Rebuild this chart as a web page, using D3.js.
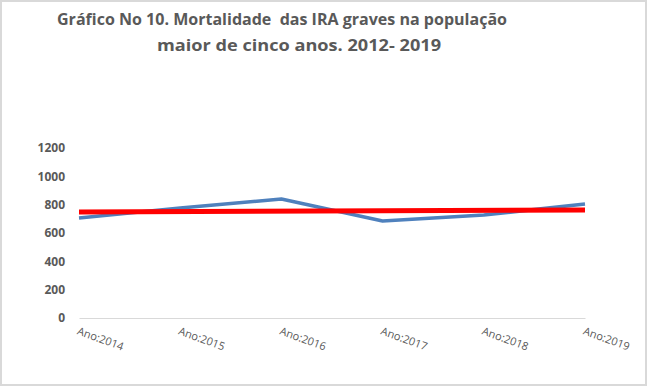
<!DOCTYPE html>
<html>
<head>
<meta charset="utf-8">
<script src="https://cdn.jsdelivr.net/npm/d3@7"></script>
<style>
  body { margin: 0; background: #fff; }
  svg { display: block; }
</style>
</head>
<body>
<div id="chart"></div>
<script>
// chart values
const years = ["Ano:2014", "Ano:2015", "Ano:2016", "Ano:2017", "Ano:2018", "Ano:2019"];
const mortalidade = [706, 776, 840, 685, 727, 805];
const tendencia = [748, 762]; // linear trend, first and last year
const yTicks = [0, 200, 400, 600, 800, 1000, 1200];
const titleLines = ["Gráfico No 10. Mortalidade  das IRA graves na população", "maior de cinco anos. 2012- 2019"];

const W = 647, H = 386;
const margin = { top: 148, right: 62, bottom: 68, left: 79 },
    width = W - margin.left - margin.right,
    height = H - margin.top - margin.bottom;

const svg = d3.select("#chart")
    .append("svg")
    .attr("width", W)
    .attr("height", H);

// outer frame
svg.append("rect")
    .attr("x", 1).attr("y", 1)
    .attr("width", W - 2).attr("height", H - 2)
    .attr("fill", "#fff")
    .attr("stroke", "#d9d9d9")
    .attr("stroke-width", 2);

// title
const titlePos = [{ x: 282, w: 450 }, { x: 299, w: 284 }];
svg.append("g")
  .selectAll("text")
  .data(titleLines)
  .enter()
  .append("text")
    .attr("x", (d, i) => titlePos[i].x)
    .attr("y", (d, i) => 25 + i * 26)
    .attr("text-anchor", "middle")
    .attr("font-family", "'Open Sans', sans-serif")
    .attr("font-weight", "bold")
    .attr("font-size", "16px")
    .attr("fill", "#595959")
    .attr("textLength", (d, i) => titlePos[i].w)
    .attr("lengthAdjust", "spacingAndGlyphs")
    .style("white-space", "pre")
    .text(d => d);

const g = svg.append("g")
    .attr("transform", `translate(${margin.left}, ${margin.top})`);

var x = d3.scalePoint()
    .domain(years)
    .range([0, width]);

var y = d3.scaleLinear()
    .domain([0, 1200])
    .range([height, 0]);

// y axis (labels only)
const yAxis = g.append("g")
    .call(d3.axisLeft(y).tickValues(yTicks).tickFormat(d3.format("d")).tickSize(0).tickPadding(14));
yAxis.select(".domain").remove();
yAxis.selectAll("text")
    .attr("font-family", "'Open Sans', sans-serif")
    .attr("font-weight", "bold")
    .attr("font-size", "12px")
    .attr("fill", "#595959");

// x axis
const xAxis = g.append("g")
    .attr("transform", `translate(0, ${height})`)
    .call(d3.axisBottom(x).tickSize(0).tickPadding(0));
xAxis.select(".domain").attr("stroke", "#d9d9d9").attr("stroke-width", 1);
xAxis.selectAll("text")
    .attr("font-family", "'Open Sans', sans-serif")
    .attr("font-size", "11px")
    .attr("fill", "#595959")
    .attr("text-anchor", "start")
    .attr("dy", 0)
    .attr("transform", "translate(-3, 16) rotate(20)");

// data line
const line = d3.line()
    .x((d, i) => x(years[i]))
    .y(d => y(d));

g.append("path")
    .datum(mortalidade)
    .attr("fill", "none")
    .attr("stroke", "#4f81bd")
    .attr("stroke-width", 3.5)
    .attr("stroke-linejoin", "round")
    .attr("d", line);

// trend line
g.append("line")
    .attr("x1", x(years[0]))
    .attr("x2", x(years[years.length - 1]))
    .attr("y1", y(tendencia[0]))
    .attr("y2", y(tendencia[1]))
    .attr("stroke", "#ff0000")
    .attr("stroke-width", 5);
</script>
</body>
</html>
